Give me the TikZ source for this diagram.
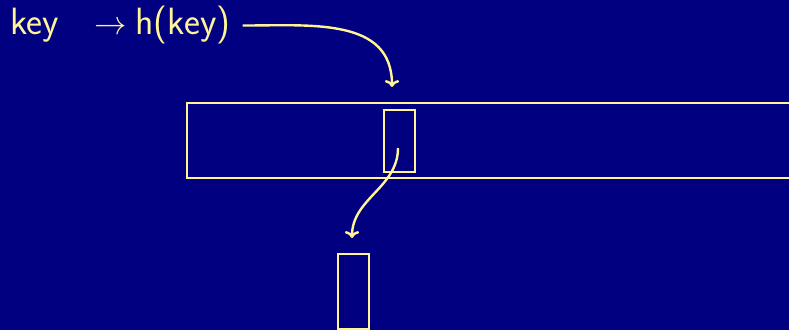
\documentclass[tikz,border=0pt]{standalone}
\usepackage{graphicx}
\usetikzlibrary{arrows.meta,positioning}
\definecolor{slidebg}{RGB}{0,0,128}
\definecolor{chalk}{RGB}{255,245,150}

\begin{document}
\begin{tikzpicture}[
  x=1pt,y=1pt,
  >=To,
  every node/.style={font=\fontsize{38}{46}\selectfont\sffamily,text=chalk,inner sep=0pt},
  bucket/.style={draw=chalk,line width=2.4pt,minimum width=31pt},
  link/.style={->,draw=chalk,line width=2.4pt}
]
  \fill[slidebg] (0,0) rectangle (789,330);
  \useasboundingbox (0,0) rectangle (789,330);
  % hash of the key
  \node[anchor=base west] (key) at (10,295) {key};
  \node[anchor=base west] (hkey) at (94,295) {\scalebox{1.3}[1.35]{$\rightarrow$}\hspace{9pt}h(key)};
  % the table and its slot
  \node[draw=chalk,line width=2.4pt,anchor=north west,minimum width=640pt,minimum height=75pt] (table) at (186,228) {};
  \node[bucket,minimum height=62pt,anchor=north west] (slot) at (383,221) {};
  \node[bucket,minimum height=75pt,anchor=north west] (entry) at (337,77) {};
  \coordinate (drop) at (392,243);
  \coordinate (pick) at (398,182);
  \coordinate (land) at (352,92);
  \draw[link] ([xshift=12pt]hkey.east) to[out=0,in=90,looseness=1.1] (drop);
  \draw[link] (pick) to[out=-90,in=90] (land);
\end{tikzpicture}
\end{document}
